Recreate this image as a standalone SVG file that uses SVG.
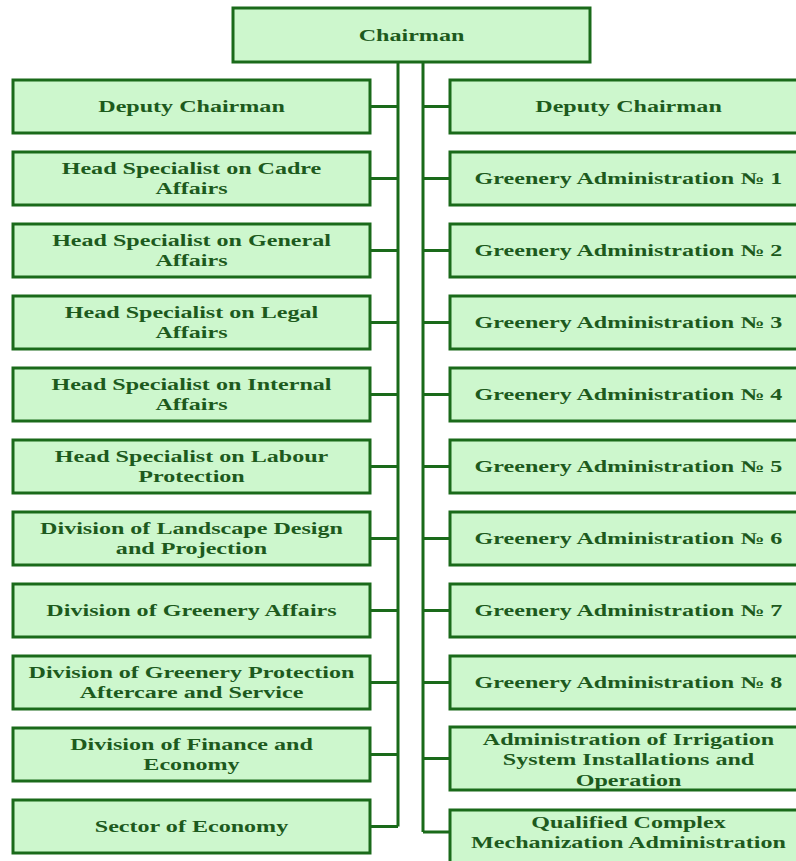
<svg xmlns="http://www.w3.org/2000/svg" width="796" height="861" viewBox="0 0 796 861">
<style>
.box{fill:#cdf7cd;stroke:#1a6a1a;stroke-width:3}
.lbl{font-family:"Liberation Serif","Times New Roman",serif;font-weight:bold;font-size:16.5px;fill:#1d5a1d;text-anchor:middle}
.conn{fill:none;stroke:#1a6a1a;stroke-width:3}
</style>
<rect width="796" height="861" fill="#ffffff"/>
<g id="connectors" class="conn">
<path d="M398,62 V826.5 M423,62 V832"/>
<path d="M370,106.5 H398 M370,178.5 H398 M370,250.5 H398 M370,322.5 H398 M370,394.5 H398 M370,466.5 H398 M370,538.5 H398 M370,610.5 H398 M370,682.5 H398 M370,754.5 H398 M370,826.5 H398"/>
<path d="M423,106.5 H450 M423,178.5 H450 M423,250.5 H450 M423,322.5 H450 M423,394.5 H450 M423,466.5 H450 M423,538.5 H450 M423,610.5 H450 M423,682.5 H450 M423,758.5 H450 M423,832 H450"/>
</g>
<g id="chairman"><rect class="box" x="233" y="8" width="357" height="54"/><text class="lbl" transform="matrix(1.46,0,0,1,411.5,0)" x="0" y="41">Chairman</text></g>
<g id="left-deputy"><rect class="box" x="13" y="80" width="357" height="53"/><text class="lbl" transform="matrix(1.46,0,0,1,191.5,0)" x="0" y="112.5">Deputy Chairman</text></g>
<g id="cadre"><rect class="box" x="13" y="152" width="357" height="53"/><text class="lbl" transform="matrix(1.46,0,0,1,191.5,0)"><tspan x="0" y="174">Head Specialist on Cadre</tspan><tspan x="0" y="194">Affairs</tspan></text></g>
<g id="general"><rect class="box" x="13" y="224" width="357" height="53"/><text class="lbl" transform="matrix(1.46,0,0,1,191.5,0)"><tspan x="0" y="246">Head Specialist on General</tspan><tspan x="0" y="266">Affairs</tspan></text></g>
<g id="legal"><rect class="box" x="13" y="296" width="357" height="53"/><text class="lbl" transform="matrix(1.46,0,0,1,191.5,0)"><tspan x="0" y="318">Head Specialist on Legal</tspan><tspan x="0" y="338">Affairs</tspan></text></g>
<g id="internal"><rect class="box" x="13" y="368" width="357" height="53"/><text class="lbl" transform="matrix(1.46,0,0,1,191.5,0)"><tspan x="0" y="390">Head Specialist on Internal</tspan><tspan x="0" y="410">Affairs</tspan></text></g>
<g id="labour"><rect class="box" x="13" y="440" width="357" height="53"/><text class="lbl" transform="matrix(1.46,0,0,1,191.5,0)"><tspan x="0" y="462">Head Specialist on Labour</tspan><tspan x="0" y="482">Protection</tspan></text></g>
<g id="landscape"><rect class="box" x="13" y="512" width="357" height="53"/><text class="lbl" transform="matrix(1.46,0,0,1,191.5,0)"><tspan x="0" y="534">Division of Landscape Design</tspan><tspan x="0" y="554">and Projection</tspan></text></g>
<g id="greenery-affairs"><rect class="box" x="13" y="584" width="357" height="53"/><text class="lbl" transform="matrix(1.46,0,0,1,191.5,0)" x="0" y="616.5">Division of Greenery Affairs</text></g>
<g id="greenery-protection"><rect class="box" x="13" y="656" width="357" height="53"/><text class="lbl" transform="matrix(1.46,0,0,1,191.5,0)"><tspan x="0" y="678">Division of Greenery Protection</tspan><tspan x="0" y="698">Aftercare and Service</tspan></text></g>
<g id="finance"><rect class="box" x="13" y="728" width="357" height="53"/><text class="lbl" transform="matrix(1.46,0,0,1,191.5,0)"><tspan x="0" y="750">Division of Finance and</tspan><tspan x="0" y="770">Economy</tspan></text></g>
<g id="sector-economy"><rect class="box" x="13" y="800" width="357" height="53"/><text class="lbl" transform="matrix(1.46,0,0,1,191.5,0)" x="0" y="832.5">Sector of Economy</text></g>
<g id="right-deputy"><rect class="box" x="450" y="80" width="357" height="53"/><text class="lbl" transform="matrix(1.46,0,0,1,628.5,0)" x="0" y="112.5">Deputy Chairman</text></g>
<g id="ga1"><rect class="box" x="450" y="152" width="357" height="53"/><text class="lbl" transform="matrix(1.46,0,0,1,628.5,0)" x="0" y="184.5">Greenery Administration № 1</text></g>
<g id="ga2"><rect class="box" x="450" y="224" width="357" height="53"/><text class="lbl" transform="matrix(1.46,0,0,1,628.5,0)" x="0" y="256.5">Greenery Administration № 2</text></g>
<g id="ga3"><rect class="box" x="450" y="296" width="357" height="53"/><text class="lbl" transform="matrix(1.46,0,0,1,628.5,0)" x="0" y="328.5">Greenery Administration № 3</text></g>
<g id="ga4"><rect class="box" x="450" y="368" width="357" height="53"/><text class="lbl" transform="matrix(1.46,0,0,1,628.5,0)" x="0" y="400.5">Greenery Administration № 4</text></g>
<g id="ga5"><rect class="box" x="450" y="440" width="357" height="53"/><text class="lbl" transform="matrix(1.46,0,0,1,628.5,0)" x="0" y="472.5">Greenery Administration № 5</text></g>
<g id="ga6"><rect class="box" x="450" y="512" width="357" height="53"/><text class="lbl" transform="matrix(1.46,0,0,1,628.5,0)" x="0" y="544.5">Greenery Administration № 6</text></g>
<g id="ga7"><rect class="box" x="450" y="584" width="357" height="53"/><text class="lbl" transform="matrix(1.46,0,0,1,628.5,0)" x="0" y="616.5">Greenery Administration № 7</text></g>
<g id="ga8"><rect class="box" x="450" y="656" width="357" height="53"/><text class="lbl" transform="matrix(1.46,0,0,1,628.5,0)" x="0" y="688.5">Greenery Administration № 8</text></g>
<g id="irrigation"><rect class="box" x="450" y="727" width="357" height="63"/><text class="lbl" transform="matrix(1.46,0,0,1,628.5,0)"><tspan x="0" y="745">Administration of Irrigation</tspan><tspan x="0" y="765.5">System Installations and</tspan><tspan x="0" y="786">Operation</tspan></text></g>
<g id="mechanization"><rect class="box" x="450" y="810" width="357" height="60"/><text class="lbl" transform="matrix(1.46,0,0,1,628.5,0)"><tspan x="0" y="828">Qualified Complex</tspan><tspan x="0" y="848">Mechanization Administration</tspan></text></g>
</svg>
